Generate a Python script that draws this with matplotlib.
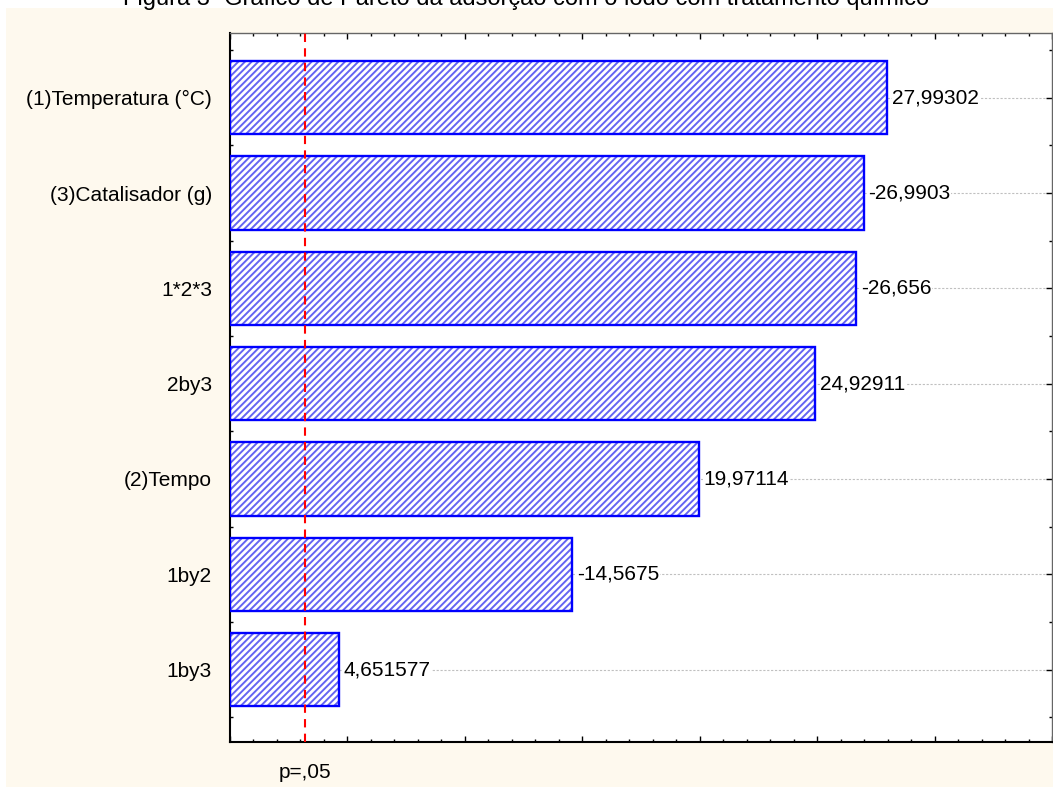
import matplotlib
matplotlib.use("Agg")
import matplotlib.pyplot as plt
from matplotlib.patches import Rectangle
from matplotlib.ticker import MultipleLocator

plt.rcParams['font.family'] = ['Liberation Sans', 'DejaVu Sans']
plt.rcParams['hatch.linewidth'] = 1.4

# Standardized effect estimates (absolute value drawn as bar length)
factors = ["(1)Temperatura (°C)", "(3)Catalisador (g)", "1*2*3", "2by3",
           "(2)Tempo", "1by2", "1by3"]
effects = [27.99302, -26.9903, -26.656, 24.92911, 19.97114, -14.5675, 4.651577]
effect_labels = ["27,99302", "-26,9903", "-26,656", "24,92911",
                 "19,97114", "-14,5675", "4,651577"]
p_limit = 3.182  # critical t at p = .05
p_label = "p=,05"
title = "Figura 3- Gráfico de Pareto da adsorção com o lodo com tratamento químico"

W, H = 1053, 787
fig = plt.figure(figsize=(W / 100, H / 100), dpi=100)
fig.patch.set_facecolor("white")

# cream panel behind the chart
fig.add_artist(Rectangle((6 / W, 0), 1 - 6 / W, 1 - 8 / H, transform=fig.transFigure,
                         facecolor="#fef9ee", edgecolor="none", zorder=0))
fig.text(0.5, 1 - 5 / H, title, ha="center", va="baseline", fontsize=17, color="black")

ax = fig.add_axes([230 / W, 1 - 742 / H, (1052 - 230) / W, (742 - 33) / H])
ax.set_facecolor("white")

ypos = list(range(len(factors)))
lengths = [abs(v) for v in effects]

ax.barh(ypos, lengths, height=0.77, color="white", edgecolor="#6464f2",
        hatch="/////", linewidth=0, zorder=2)
ax.barh(ypos, lengths, height=0.77, color="none", edgecolor="#0000ff",
        linewidth=1.7, zorder=3)

for y, v, lab in zip(ypos, lengths, effect_labels):
    ax.text(v + 0.2, y, lab, va="center", ha="left", fontsize=15, zorder=4,
            bbox=dict(facecolor="white", edgecolor="none", pad=0.5))

ax.axvline(p_limit, color="#ff0000", linestyle=(0, (4, 3)), linewidth=1.5, zorder=5)

ax.set_xlim(0, 35)
ax.set_ylim(6.76, -0.68)
ax.set_yticks(ypos)
ax.set_yticklabels(factors, fontsize=15)
ax.yaxis.set_minor_locator(MultipleLocator(0.5))
ax.xaxis.set_major_locator(MultipleLocator(5))
ax.xaxis.set_minor_locator(MultipleLocator(1))
ax.set_xticklabels([])
ax.grid(axis="y", color="#c0c0c0", linestyle=(0, (2, 1.5)), linewidth=0.8, zorder=1)
ax.set_axisbelow(True)

ax.tick_params(which="both", direction="in", top=True, right=True, length=4,
               width=1, color="black")
ax.tick_params(which="minor", length=2.5)
ax.tick_params(axis="y", which="major", pad=13)
for side in ["left", "bottom"]:
    ax.spines[side].set_linewidth(1.5)
for side in ["top", "right"]:
    ax.spines[side].set_linewidth(1)
    ax.spines[side].set_color("#666666")

ax.text(p_limit, -0.03, p_label, transform=ax.get_xaxis_transform(),
        ha="center", va="top", fontsize=15)

fig.savefig("out.png", dpi=100)
